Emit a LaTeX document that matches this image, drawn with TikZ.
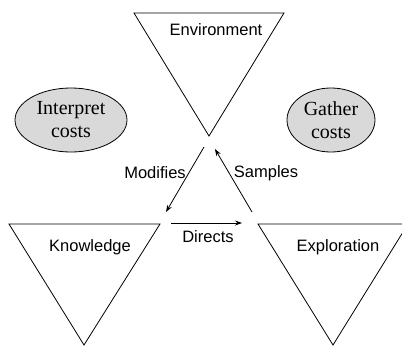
\documentclass[tikz,border=0pt]{standalone}
\usepackage{fontspec}
\setmainfont{Liberation Serif}
\newfontfamily\labelfont{Liberation Sans}
\usetikzlibrary{arrows.meta,shapes.geometric}
\begin{document}
\begin{tikzpicture}[x=1pt,y=-1pt,
  tri/.style={draw=black,line width=0.8pt,line join=miter},
  lbl/.style={font=\labelfont\fontsize{16.5}{18}\selectfont,inner sep=0pt},
  cost/.style={draw=black,fill=gray!30,ellipse,line width=0.8pt,align=center,
    minimum height=64pt,font=\fontsize{20}{23}\selectfont,inner sep=0pt},
  link/.style={draw=black,line width=0.8pt,-{Stealth[length=7pt,width=5pt]}}]
\useasboundingbox (0,0) rectangle (402,346);
% three inverted triangles
\draw[tri] (134,13) -- (284,13) -- (209,136) -- cycle;
\draw[tri] (9,224) -- (160,224) -- (84,345) -- cycle;
\draw[tri] (258,224) -- (408,224) -- (333,345) -- cycle;
% triangle captions
\node[lbl] (env) at (216,30) {Environment};
\node[lbl] (know) at (90,247) {Knowledge};
\node[lbl] (expl) at (338,247) {Exploration};
% cost ellipses
\node[cost,minimum width=112pt] (interp) at (71,120) {Interpret\\costs};
\node[cost,minimum width=88pt] (gather) at (331,120) {Gather\\costs};
% connector end points
\coordinate (envL) at (204,147);
\coordinate (knowT) at (166,212);
\coordinate (explT) at (252,212);
\coordinate (envR) at (215,149);
\coordinate (knowR) at (171,223);
\coordinate (explL) at (242,223);
% connectors
\draw[link] (envL) -- (knowT);
\draw[link] (explT) -- (envR);
\draw[link] (knowR) -- (explL);
% connector labels
\node[lbl] (mod) at (155,173) {Modifies};
\node[lbl] (samp) at (266,173) {Samples};
\node[lbl] (dir) at (208,237) {Directs};
\end{tikzpicture}
\end{document}
